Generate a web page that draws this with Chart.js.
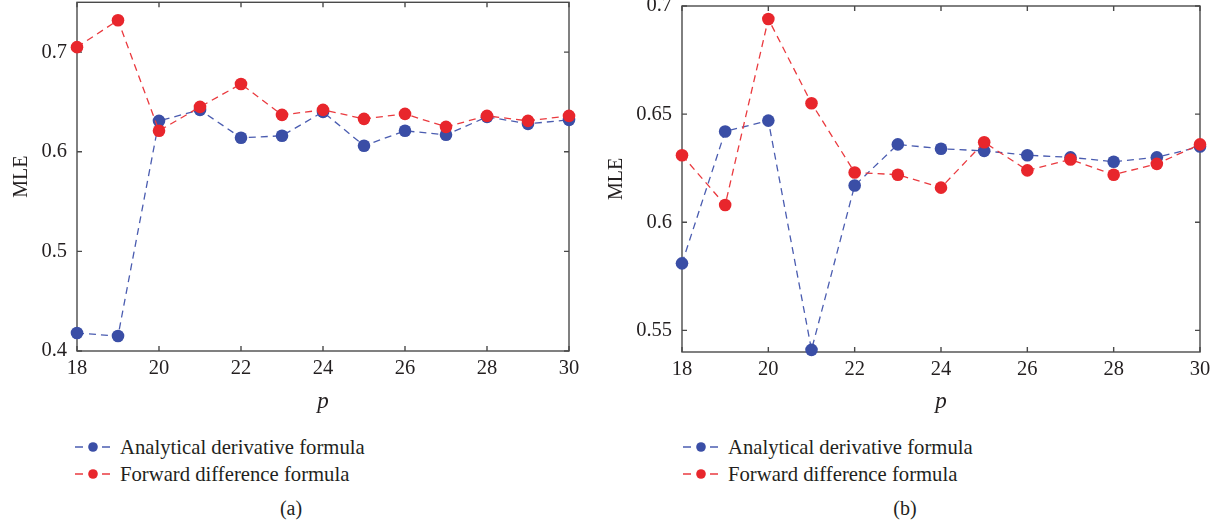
<!DOCTYPE html>
<html>
<head>
<meta charset="utf-8">
<script src="https://cdn.jsdelivr.net/npm/chart.js@4.4.1/dist/chart.umd.min.js"></script>
<style>
  html, body { margin: 0; padding: 0; background: #fff; }
  body { width: 1223px; height: 528px; overflow: hidden; position: relative;
         font-family: "Liberation Serif", "Times New Roman", serif; color: #231f20; }
  .panel { position: absolute; top: -20px; }
  .legend-row { position: absolute; white-space: nowrap; height: 24px; line-height: 24px; font-size: 20.7px; }
  .legend-row svg { vertical-align: top; margin-right: 10px; }
  .caption { position: absolute; top: 496px; font-size: 20px; line-height: 24px; transform: translateX(-50%); }
</style>
</head>
<body>
<div class="panel" style="left:0px"><canvas id="chartA" width="600" height="440"></canvas></div>
<div class="panel" style="left:600px"><canvas id="chartB" width="623" height="440"></canvas></div>
<div id="legendA"></div>
<div id="legendB"></div>
<div class="caption" style="left:291px">(a)</div>
<div class="caption" style="left:905px">(b)</div>

<script>
// Data
const pValues = [18, 19, 20, 21, 22, 23, 24, 25, 26, 27, 28, 29, 30];
const seriesNames = ['Analytical derivative formula', 'Forward difference formula'];

// panel (a)
const analyticalA = [0.418, 0.415, 0.631, 0.642, 0.614, 0.616, 0.640, 0.606, 0.621, 0.617, 0.635, 0.628, 0.632];
const forwardA    = [0.705, 0.732, 0.621, 0.645, 0.668, 0.637, 0.642, 0.633, 0.638, 0.625, 0.636, 0.631, 0.636];

// panel (b)
const analyticalB = [0.581, 0.642, 0.647, 0.541, 0.617, 0.636, 0.634, 0.633, 0.631, 0.630, 0.628, 0.630, 0.635];
const forwardB    = [0.631, 0.608, 0.694, 0.655, 0.623, 0.622, 0.616, 0.637, 0.624, 0.629, 0.622, 0.627, 0.636];

// tick labels
const xTicks = [18, 20, 22, 24, 26, 28, 30];
const yTicksA = [0.4, 0.5, 0.6, 0.7];
const yTicksB = [0.55, 0.6, 0.65, 0.7];

document.addEventListener('DOMContentLoaded', function() {
  // Colors
  const blueColor = '#3a4ea6',
    blueLineColor = '#4a5cb0',
    redColor = '#e8262c',
    redLineColor = '#ea3a3f',
    axisColor = '#4a4a4a',
    textColor = '#231f20';

  const fontFamily = '"Liberation Serif", "Times New Roman", serif';

  // box with inward tick marks on all four sides
  const framePlugin = {
    id: 'frame',
    beforeDatasetsDraw(chart) {
      const { ctx, chartArea: a, scales } = chart;
      const tickLen = 5;
      ctx.save();
      ctx.strokeStyle = axisColor;
      ctx.lineWidth = 1.4;
      ctx.strokeRect(a.left, a.top, a.right - a.left, a.bottom - a.top);
      ctx.beginPath();
      scales.x.ticks.forEach(function(t) {
        const px = scales.x.getPixelForValue(t.value);
        ctx.moveTo(px, a.bottom); ctx.lineTo(px, a.bottom - tickLen);
        ctx.moveTo(px, a.top); ctx.lineTo(px, a.top + tickLen);
      });
      scales.y.ticks.forEach(function(t) {
        const py = scales.y.getPixelForValue(t.value);
        ctx.moveTo(a.left, py); ctx.lineTo(a.left + tickLen, py);
        ctx.moveTo(a.right, py); ctx.lineTo(a.right - tickLen, py);
      });
      ctx.stroke();
      ctx.restore();
    }
  };

  function makeSeries(label, values, line, fill, order) {
    return {
      label: label,
      data: pValues.map(function(p, i) { return { x: p, y: values[i] }; }),
      borderColor: line,
      backgroundColor: fill,
      pointBackgroundColor: fill,
      pointBorderColor: fill,
      pointBorderWidth: 0,
      pointRadius: 6.3,
      borderWidth: 1.3,
      borderDash: [7, 5],
      tension: 0,
      clip: false,
      order: order
    };
  }

  function buildChart(canvasId, analytical, forward, yMin, yMax, yTicks, area, titlePad) {
    const canvas = document.getElementById(canvasId);
    return new Chart(canvas, {
      type: 'line',
      data: {
        datasets: [
          makeSeries(seriesNames[0], analytical, blueLineColor, blueColor, 1),
          makeSeries(seriesNames[1], forward, redLineColor, redColor, 0)
        ]
      },
      options: {
        responsive: false,
        animation: false,
        layout: {
          padding: { left: 0, right: canvas.width - area.right, top: area.top, bottom: 0 }
        },
        scales: {
          x: {
            type: 'linear',
            min: 18,
            max: 30,
            afterBuildTicks: function(scale) {
              scale.ticks = xTicks.map(function(v) { return { value: v }; });
            },
            afterFit: function(scale) { scale.height = canvas.height - area.bottom; },
            grid: { display: false, drawTicks: false },
            border: { display: false },
            ticks: {
              padding: 5,
              color: textColor,
              font: { family: fontFamily, size: 20.5 },
              callback: function(v) { return String(v); }
            },
            title: {
              display: true,
              text: 'p',
              color: textColor,
              font: { family: fontFamily, size: 23, style: 'italic' },
              padding: { top: 0, bottom: 4 }
            }
          },
          y: {
            type: 'linear',
            min: yMin,
            max: yMax,
            afterBuildTicks: function(scale) {
              scale.ticks = yTicks.map(function(v) { return { value: v }; });
            },
            afterFit: function(scale) { scale.width = area.left; },
            grid: { display: false, drawTicks: false },
            border: { display: false },
            ticks: {
              padding: 10,
              color: textColor,
              font: { family: fontFamily, size: 20.5 },
              callback: function(v) { return String(v); }
            },
            title: {
              display: true,
              text: 'MLE',
              color: textColor,
              font: { family: fontFamily, size: 20 },
              padding: titlePad
            }
          }
        },
        plugins: {
          legend: { display: false },
          tooltip: { enabled: false }
        }
      },
      plugins: [framePlugin]
    });
  }

  buildChart('chartA', analyticalA, forwardA, 0.4, 0.75, yTicksA,
    { left: 77, right: 569, top: 21, bottom: 371 }, { top: 10, bottom: 10 });
  buildChart('chartB', analyticalB, forwardB, 0.54, 0.7, yTicksB,
    { left: 82, right: 600, top: 26, bottom: 372 }, { top: 5, bottom: 5 });

  // legends below each panel
  function buildLegend(id, left) {
    const holder = document.getElementById(id);
    const colors = [[blueLineColor, blueColor], [redLineColor, redColor]];
    const rowCenters = [447, 474];
    seriesNames.forEach(function(name, i) {
      const row = document.createElement('div');
      row.className = 'legend-row';
      row.style.left = left + 'px';
      row.style.top = (rowCenters[i] - 12) + 'px';
      row.innerHTML =
        '<svg width="35" height="24">' +
        '<line x1="0" y1="12" x2="8" y2="12" stroke="' + colors[i][0] + '" stroke-width="1.5"/>' +
        '<circle cx="18" cy="12" r="4.8" fill="' + colors[i][1] + '"/>' +
        '<line x1="27" y1="12" x2="35" y2="12" stroke="' + colors[i][0] + '" stroke-width="1.5"/>' +
        '</svg><span>' + name + '</span>';
      holder.appendChild(row);
    });
  }
  buildLegend('legendA', 75);
  buildLegend('legendB', 683);
});
</script>
</body>
</html>
